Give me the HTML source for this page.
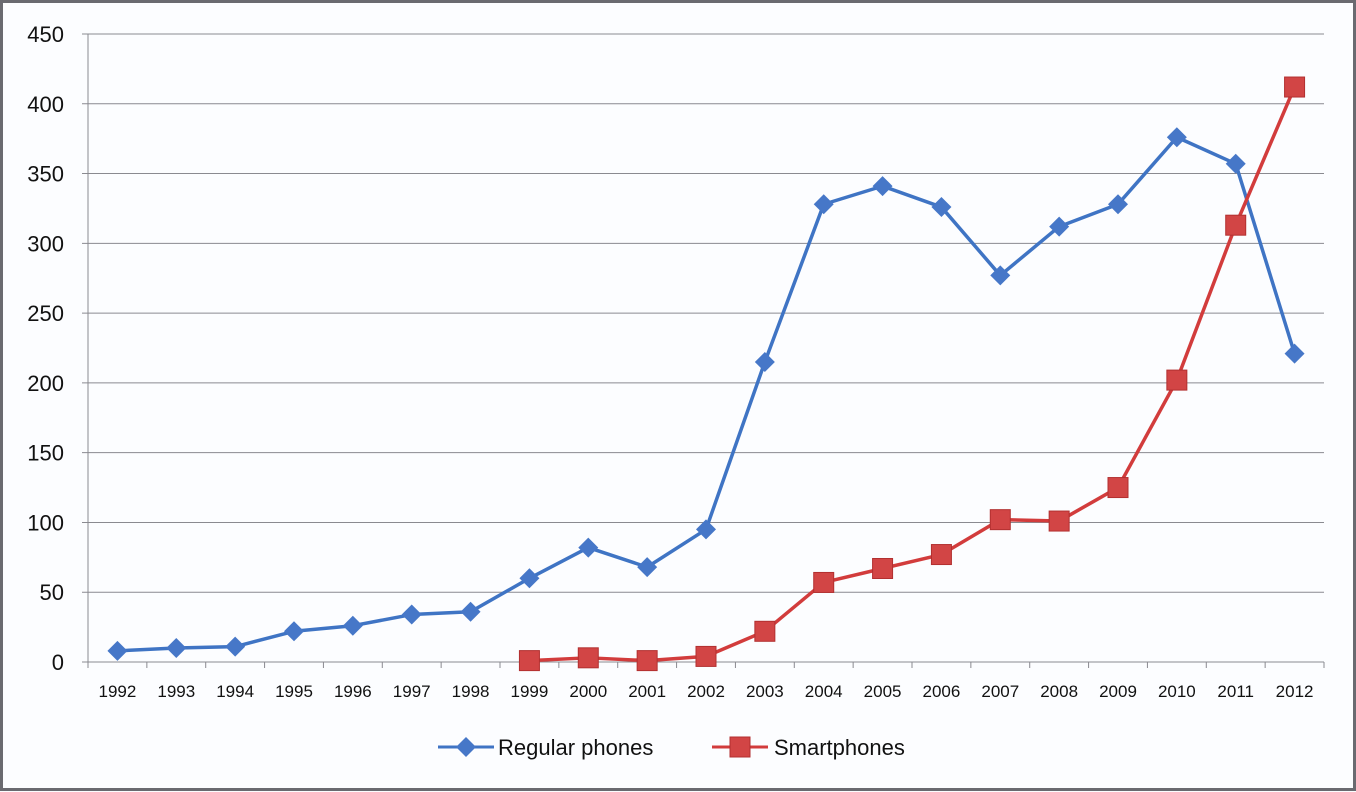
<!DOCTYPE html>
<html><head><style>
html,body{margin:0;padding:0;background:#fff;}
svg{display:block;font-family:"Liberation Sans","DejaVu Sans",sans-serif;}
</style></head><body>
<svg width="1356" height="792" viewBox="0 0 1356 792">
<rect x="0" y="0" width="1356" height="792" fill="#fcfdff"/>
<rect x="1.5" y="1.5" width="1353" height="788" fill="none" stroke="#6a6a70" stroke-width="3"/>
<g id="grid" stroke="#8a8a90" stroke-width="1"></g>
<g id="ylab" font-size="22" fill="#111" text-anchor="end"></g>
<g id="xlab" font-size="17" fill="#111" text-anchor="middle"></g>
<g id="series"></g>
<g font-size="22" fill="#111">
<line x1="438" y1="747" x2="494" y2="747" stroke="#3f74c4" stroke-width="3"/>
<polygon points="466,737 476,747 466,757 456,747" fill="#4677c8"/>
<text x="498" y="755">Regular phones</text>
<line x1="712" y1="747" x2="768" y2="747" stroke="#d23c3c" stroke-width="3"/>
<rect x="730" y="737" width="20" height="20" fill="#d24545" stroke="#b23030"/>
<text x="774" y="755">Smartphones</text>
</g>
</svg>
<script>
var NS="http://www.w3.org/2000/svg";
function el(p,t,a,txt){var e=document.createElementNS(NS,t);for(var k in a)e.setAttribute(k,a[k]);if(txt!==undefined)e.textContent=txt;p.appendChild(e);return e;}
var g=document.getElementById('grid'),yl=document.getElementById('ylab'),xl=document.getElementById('xlab'),s=document.getElementById('series');
function Y(v){return 662-v*628/450;}
var L=88,R=1324,W=(R-L)/21;
for(var v=0;v<=450;v+=50){var y=Y(v);el(g,'line',{x1:L-6,y1:y,x2:R,y2:y});el(yl,'text',{x:64,y:y+8},v);}
el(g,'line',{x1:L,y1:Y(450),x2:L,y2:662});
for(var i=0;i<=21;i++){var x=L+i*W;el(g,'line',{x1:x,y1:662,x2:x,y2:668});}
for(var i=0;i<21;i++){el(xl,'text',{x:L+W*(i+0.5),y:697},1992+i);}
var reg=[8,10,11,22,26,34,36,60,82,68,95,215,328,341,326,277,312,328,376,357,221];
var sm=[1,3,1,4,22,57,67,77,102,101,125,202,313,412];
function X(i){return L+W*(i+0.5);}
var p=reg.map(function(v,i){return X(i)+','+Y(v)}).join(' ');
el(s,'polyline',{points:p,fill:'none',stroke:'#3f74c4','stroke-width':3.5,'stroke-linejoin':'round'});
var q=sm.map(function(v,i){return X(i+7)+','+Y(v)}).join(' ');
el(s,'polyline',{points:q,fill:'none',stroke:'#d23c3c','stroke-width':3.5,'stroke-linejoin':'round'});
reg.forEach(function(v,i){var x=X(i),y=Y(v);el(s,'polygon',{points:(x)+','+(y-10)+' '+(x+10)+','+y+' '+x+','+(y+10)+' '+(x-10)+','+y,fill:'#4677c8'});});
sm.forEach(function(v,i){var x=X(i+7),y=Y(v);el(s,'rect',{x:x-10,y:y-10,width:20,height:20,fill:'#d24545',stroke:'#b23030'});});
</script>
</body></html>
